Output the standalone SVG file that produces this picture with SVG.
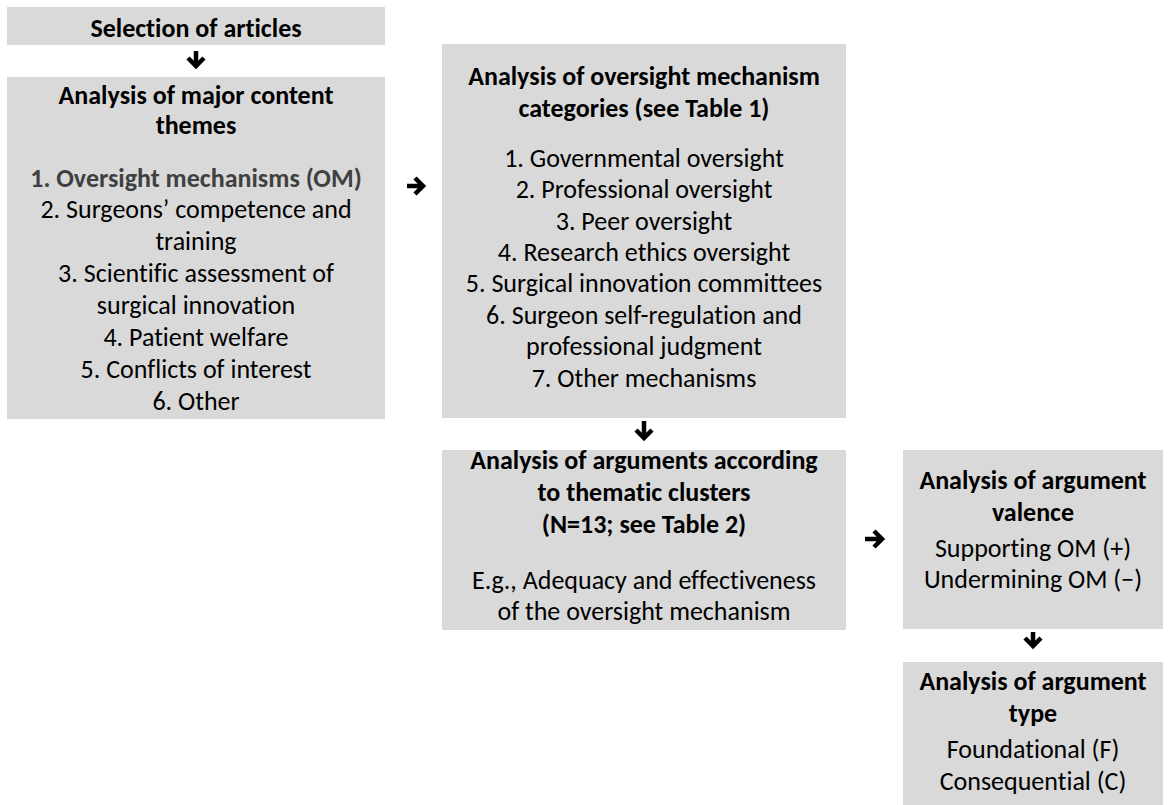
<svg xmlns="http://www.w3.org/2000/svg" width="1169" height="805" viewBox="0 0 1169 805">
<style>
.box{fill:#d9d9d9}
text{font-family:Carlito,Lato,"Liberation Sans",sans-serif;font-size:26px;text-anchor:middle;fill:#000;font-variant-ligatures:none}
.h{font-weight:bold}
.g{font-weight:bold;fill:#404040}
.arr{fill:none;stroke:#000;stroke-width:4.5;stroke-linejoin:miter;stroke-miterlimit:10}
</style>
<rect width="1169" height="805" fill="#fff"/>
<g id="selection">
<rect class="box" x="7" y="7" width="378" height="38"/>
<text class="h" x="196" y="37">Selection of articles</text>
</g>
<g id="themes">
<rect class="box" x="7" y="77" width="378" height="342"/>
<text class="h" x="196" y="104">Analysis of major content</text>
<text class="h" x="196" y="134">themes</text>
<text class="g" x="196" y="187">1. Oversight mechanisms (OM)</text>
<text x="196" y="218">2. Surgeons’ competence and</text>
<text x="196" y="250">training</text>
<text x="196" y="282">3. Scientific assessment of</text>
<text x="196" y="314">surgical innovation</text>
<text x="196" y="346">4. Patient welfare</text>
<text x="196" y="378">5. Conflicts of interest</text>
<text x="196" y="410">6. Other</text>
</g>
<g id="categories">
<rect class="box" x="442" y="44" width="404" height="374"/>
<text class="h" x="644" y="85">Analysis of oversight mechanism</text>
<text class="h" x="644" y="117">categories (see Table 1)</text>
<text x="644" y="167">1. Governmental oversight</text>
<text x="644" y="198">2. Professional oversight</text>
<text x="644" y="230">3. Peer oversight</text>
<text x="644" y="261">4. Research ethics oversight</text>
<text x="644" y="292">5. Surgical innovation committees</text>
<text x="644" y="324">6. Surgeon self-regulation and</text>
<text x="644" y="355">professional judgment</text>
<text x="644" y="387">7. Other mechanisms</text>
</g>
<g id="arguments">
<rect class="box" x="442" y="450" width="404" height="180"/>
<text class="h" x="644" y="469">Analysis of arguments according</text>
<text class="h" x="644" y="501">to thematic clusters</text>
<text class="h" x="644" y="533">(N=13; see Table 2)</text>
<text x="644" y="589">E.g., Adequacy and effectiveness</text>
<text x="644" y="620">of the oversight mechanism</text>
</g>
<g id="valence">
<rect class="box" x="903" y="450" width="260" height="179"/>
<text class="h" x="1033" y="489">Analysis of argument</text>
<text class="h" x="1033" y="521">valence</text>
<text x="1033" y="557">Supporting OM (+)</text>
<text x="1033" y="588">Undermining OM (−)</text>
</g>
<g id="type">
<rect class="box" x="903" y="662" width="260" height="143"/>
<text class="h" x="1033" y="690">Analysis of argument</text>
<text class="h" x="1033" y="722">type</text>
<text x="1033" y="758">Foundational (F)</text>
<text x="1033" y="790">Consequential (C)</text>
</g>
<g id="connectors">
<path class="arr" d="M196 51V65M188 58L196 66L204 58"/>
<path class="arr" d="M407 186H423M415 178L423 186L415 194"/>
<path class="arr" d="M644 421V437M636 430L644 438L652 430"/>
<path class="arr" d="M865 539H882M874 531L882 539L874 547"/>
<path class="arr" d="M1033 632V645M1025 638L1033 646L1041 638"/>
</g>
</svg>
